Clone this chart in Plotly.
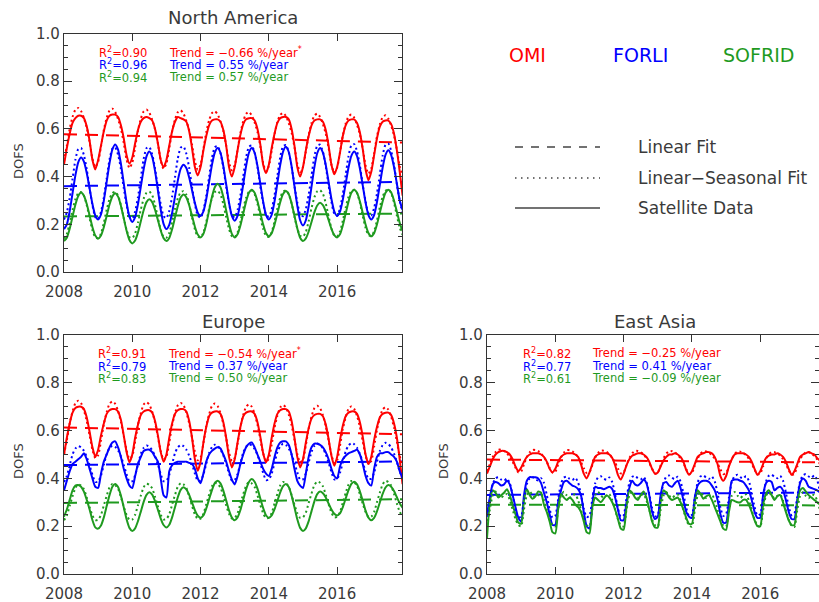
import plotly.graph_objects as go

W, H = 819, 602
YEARS = list(range(2008, 2018))
t = [y + m / 12 for y in YEARS for m in range(12)]

RED, BLUE, GREEN = "#ff0000", "#0000ff", "#1f9a1f"
TXT = "#3a3a3a"
FONT = "DejaVu Sans"

# ---------------- North America ----------------
na_omi = [
    .45, .52, .58, .625, .645, .655, .655, .645, .61, .55, .47, .43,
    .47, .53, .59, .635, .655, .66, .66, .65, .615, .56, .49, .455,
    .48, .54, .595, .63, .645, .65, .645, .635, .60, .54, .47, .44,
    .47, .53, .59, .63, .65, .645, .64, .63, .59, .52, .44, .405,
    .44, .51, .57, .615, .635, .64, .64, .63, .595, .53, .44, .40,
    .44, .51, .575, .62, .64, .645, .645, .635, .60, .535, .45, .415,
    .45, .52, .58, .625, .645, .65, .65, .64, .60, .53, .44, .40,
    .44, .51, .57, .615, .635, .64, .64, .63, .595, .53, .45, .41,
    .44, .50, .57, .615, .635, .64, .64, .625, .585, .515, .43, .385,
    .42, .49, .56, .61, .63, .635, .635, .62, .58, .51, .42, .32]
na_omi_fit = [
    .465, .530, .600, .650, .680, .688, .675, .645, .605, .545, .475, .440,
    .462, .526, .596, .646, .677, .685, .671, .641, .601, .541, .471, .436,
    .458, .523, .593, .643, .673, .681, .668, .638, .598, .538, .468, .433,
    .455, .519, .589, .639, .670, .678, .664, .634, .594, .534, .464, .429,
    .451, .516, .586, .636, .666, .674, .661, .631, .591, .531, .461, .426,
    .448, .512, .582, .632, .663, .671, .657, .627, .587, .527, .457, .422,
    .444, .509, .579, .629, .659, .667, .654, .624, .584, .524, .454, .419,
    .441, .505, .575, .625, .656, .664, .650, .620, .580, .520, .450, .415,
    .437, .502, .572, .622, .652, .660, .647, .617, .577, .517, .447, .412,
    .434, .498, .568, .618, .649, .657, .643, .613, .573, .513, .443, .408]
na_forli = [
    .18, .20, .255, .33, .405, .46, .48, .463, .415, .35, .285, .237,
    .22, .241, .299, .378, .456, .514, .535, .513, .454, .373, .291, .232,
    .21, .23, .284, .358, .431, .485, .505, .483, .424, .343, .261, .202,
    .18, .198, .248, .315, .383, .432, .45, .436, .396, .343, .289, .249,
    .235, .254, .306, .378, .449, .501, .52, .50, .444, .368, .291, .235,
    .215, .235, .291, .368, .444, .50, .52, .50, .445, .37, .295, .24,
    .22, .24, .296, .373, .449, .505, .525, .503, .443, .36, .278, .217,
    .195, .217, .276, .358, .439, .498, .52, .501, .449, .378, .306, .254,
    .235, .253, .303, .37, .438, .487, .505, .486, .434, .363, .291, .239,
    .22, .239, .293, .365, .438, .491, .51, .49, .44, .37, .30, .26]
na_forli_fit = [
    .220, .250, .310, .390, .470, .515, .520, .490, .430, .350, .280, .230,
    .222, .252, .312, .392, .472, .517, .522, .492, .432, .352, .282, .232,
    .224, .254, .314, .394, .474, .519, .524, .494, .434, .354, .284, .234,
    .226, .256, .316, .396, .476, .521, .526, .496, .436, .356, .286, .236,
    .228, .258, .318, .398, .478, .523, .528, .498, .438, .358, .288, .238,
    .230, .260, .320, .400, .480, .525, .530, .500, .440, .360, .290, .240,
    .232, .262, .322, .402, .482, .527, .532, .502, .442, .362, .292, .242,
    .234, .264, .324, .404, .484, .529, .534, .504, .444, .364, .294, .244,
    .236, .266, .326, .406, .486, .531, .536, .506, .446, .366, .296, .246,
    .238, .268, .328, .408, .488, .533, .538, .508, .448, .368, .298, .248]
na_sofrid = [
    .13, .144, .181, .232, .282, .319, .333, .32, .285, .237, .188, .153,
    .14, .153, .188, .235, .283, .317, .33, .316, .278, .225, .173, .134,
    .12, .132, .166, .213, .259, .293, .305, .293, .261, .218, .174, .142,
    .13, .143, .179, .228, .276, .312, .325, .313, .28, .235, .19, .157,
    .145, .16, .201, .258, .314, .355, .37, .355, .314, .258, .201, .16,
    .145, .158, .195, .245, .295, .332, .345, .332, .296, .248, .199, .163,
    .15, .163, .198, .245, .293, .327, .34, .326, .288, .235, .183, .144,
    .13, .141, .17, .21, .25, .279, .29, .28, .254, .218, .181, .155,
    .145, .158, .195, .245, .295, .332, .345, .332, .296, .248, .199, .163,
    .15, .163, .199, .248, .296, .332, .345, .333, .299, .253, .206, .172]
na_sofrid_fit = [
    .140, .160, .205, .260, .305, .330, .335, .320, .280, .225, .175, .145,
    .141, .161, .206, .261, .306, .331, .336, .321, .281, .226, .176, .146,
    .142, .162, .207, .262, .307, .332, .337, .322, .282, .227, .177, .147,
    .144, .164, .209, .264, .309, .334, .339, .324, .284, .229, .179, .149,
    .145, .165, .210, .265, .310, .335, .340, .325, .285, .230, .180, .150,
    .146, .166, .211, .266, .311, .336, .341, .326, .286, .231, .181, .151,
    .147, .167, .212, .267, .312, .337, .342, .327, .287, .232, .182, .152,
    .148, .168, .213, .268, .313, .338, .343, .328, .288, .233, .183, .153,
    .150, .170, .215, .270, .315, .340, .345, .330, .290, .235, .185, .155,
    .151, .171, .216, .271, .316, .341, .346, .331, .291, .236, .186, .156]
na_lin = {"omi": [0.578, 0.543], "forli": [0.360, 0.378], "sofrid": [0.233, 0.245]}

# ---------------- Europe ----------------
eu_omi = [
    .50, .57, .63, .675, .695, .70, .70, .69, .655, .595, .53, .49,
    .52, .58, .63, .67, .685, .69, .69, .68, .645, .58, .51, .467,
    .50, .57, .625, .665, .68, .685, .685, .675, .64, .58, .51, .47,
    .50, .57, .63, .67, .685, .69, .69, .68, .64, .57, .48, .432,
    .47, .55, .615, .66, .675, .68, .68, .67, .635, .57, .49, .446,
    .48, .55, .615, .66, .675, .68, .68, .67, .635, .575, .505, .467,
    .50, .57, .63, .67, .685, .69, .69, .68, .64, .57, .49, .446,
    .48, .55, .61, .65, .665, .67, .67, .66, .625, .565, .495, .453,
    .49, .56, .62, .66, .675, .68, .68, .67, .635, .575, .50, .46,
    .49, .56, .615, .655, .67, .675, .675, .665, .63, .57, .48, .376]
eu_omi_fit = [
    .500, .560, .630, .680, .715, .725, .715, .685, .640, .580, .520, .485,
    .497, .557, .627, .677, .712, .722, .712, .682, .637, .577, .517, .482,
    .494, .554, .624, .674, .709, .719, .709, .679, .634, .574, .514, .479,
    .491, .551, .621, .671, .706, .716, .706, .676, .631, .571, .511, .476,
    .488, .548, .618, .668, .703, .713, .703, .673, .628, .568, .508, .473,
    .485, .545, .615, .665, .700, .710, .700, .670, .625, .565, .505, .470,
    .482, .542, .612, .662, .697, .707, .697, .667, .622, .562, .502, .467,
    .479, .539, .609, .659, .694, .704, .694, .664, .619, .559, .499, .464,
    .476, .536, .606, .656, .691, .701, .691, .661, .616, .556, .496, .461,
    .473, .533, .603, .653, .688, .698, .688, .658, .613, .553, .493, .458]
eu_forli = [
    .35, .39, .43, .46, .47, .48, .49, .505, .48, .44, .40, .365,
    .36, .42, .47, .50, .53, .55, .555, .53, .49, .44, .40, .37,
    .36, .41, .46, .49, .515, .52, .52, .51, .49, .47, .40, .33,
    .32, .43, .455, .465, .47, .47, .47, .47, .465, .46, .44, .40,
    .38, .42, .47, .50, .515, .525, .53, .525, .50, .47, .43, .395,
    .375, .41, .46, .50, .53, .545, .55, .53, .50, .47, .44, .42,
    .41, .44, .49, .53, .55, .555, .555, .54, .50, .44, .39, .37,
    .36, .42, .49, .53, .545, .545, .54, .53, .51, .48, .44, .41,
    .40, .45, .48, .495, .505, .51, .515, .52, .50, .46, .41, .38,
    .37, .44, .49, .505, .505, .51, .51, .50, .49, .47, .43, .40]
eu_forli_fit = [
    .385, .410, .455, .500, .525, .535, .530, .515, .490, .455, .415, .385,
    .387, .412, .457, .502, .527, .537, .532, .517, .492, .457, .417, .387,
    .388, .413, .458, .503, .528, .538, .533, .518, .493, .458, .418, .388,
    .390, .415, .460, .505, .530, .540, .535, .520, .495, .460, .420, .390,
    .391, .416, .461, .506, .531, .541, .536, .521, .496, .461, .421, .391,
    .393, .418, .463, .508, .533, .543, .538, .523, .498, .463, .423, .393,
    .395, .420, .465, .510, .535, .545, .540, .525, .500, .465, .425, .395,
    .396, .421, .466, .511, .536, .546, .541, .526, .501, .466, .426, .396,
    .398, .423, .468, .513, .538, .548, .543, .528, .503, .468, .428, .398,
    .399, .424, .469, .514, .539, .549, .544, .529, .504, .469, .429, .399]
eu_sofrid = [
    .24, .27, .31, .35, .37, .372, .365, .345, .31, .27, .225, .195,
    .19, .203, .237, .284, .33, .365, .377, .364, .328, .279, .229, .193,
    .18, .191, .221, .261, .302, .331, .342, .332, .305, .269, .232, .205,
    .195, .206, .237, .279, .321, .352, .363, .354, .331, .299, .267, .244,
    .235, .245, .274, .313, .351, .38, .39, .379, .349, .308, .266, .236,
    .225, .237, .268, .311, .354, .385, .397, .386, .357, .316, .276, .246,
    .235, .245, .271, .306, .342, .368, .377, .364, .328, .279, .229, .193,
    .18, .191, .221, .263, .304, .334, .345, .338, .32, .295, .27, .252,
    .245, .254, .28, .316, .351, .377, .386, .375, .346, .306, .265, .236,
    .225, .235, .262, .299, .335, .362, .372, .365, .347, .321, .296, .277]
eu_sofrid_fit = [
    .225, .245, .285, .325, .360, .375, .370, .355, .320, .280, .245, .225,
    .227, .247, .287, .327, .362, .377, .372, .357, .322, .282, .247, .227,
    .228, .248, .288, .328, .363, .378, .373, .358, .323, .283, .248, .228,
    .230, .250, .290, .330, .365, .380, .375, .360, .325, .285, .250, .230,
    .232, .252, .292, .332, .367, .382, .377, .362, .327, .287, .252, .232,
    .234, .254, .294, .334, .369, .384, .379, .364, .329, .289, .254, .234,
    .235, .255, .295, .335, .370, .385, .380, .365, .330, .290, .255, .235,
    .237, .257, .297, .337, .372, .387, .382, .367, .332, .292, .257, .237,
    .239, .259, .299, .339, .374, .389, .384, .369, .334, .294, .259, .239,
    .240, .260, .300, .340, .375, .390, .385, .370, .335, .295, .260, .240]
eu_lin = {"omi": [0.613, 0.585], "forli": [0.456, 0.471], "sofrid": [0.297, 0.313]}

# ---------------- East Asia ----------------
ea_omi = [
    .42, .45, .48, .50, .51, .515, .515, .51, .50, .48, .45, .43,
    .445, .47, .49, .50, .505, .505, .505, .50, .49, .47, .44, .425,
    .44, .47, .49, .50, .505, .505, .505, .50, .49, .46, .42, .40,
    .425, .46, .49, .50, .505, .505, .505, .50, .485, .455, .415, .395,
    .42, .455, .48, .495, .50, .505, .505, .50, .49, .47, .44, .42,
    .425, .45, .475, .49, .50, .50, .505, .50, .49, .47, .435, .415,
    .43, .46, .49, .50, .505, .51, .51, .505, .49, .46, .41, .39,
    .41, .45, .48, .50, .505, .505, .505, .50, .49, .47, .44, .415,
    .43, .46, .485, .495, .50, .50, .505, .50, .49, .47, .44, .415,
    .43, .46, .49, .50, .505, .51, .505, .50, .485, .475, .47, .46]
ea_omi_fit = [
    .430, .460, .490, .510, .520, .520, .515, .505, .490, .470, .445, .425,
    .429, .459, .489, .509, .519, .519, .514, .504, .489, .469, .444, .424,
    .428, .458, .488, .508, .518, .518, .513, .503, .488, .468, .443, .423,
    .426, .456, .486, .506, .516, .516, .511, .501, .486, .466, .441, .421,
    .425, .455, .485, .505, .515, .515, .510, .500, .485, .465, .440, .420,
    .424, .454, .484, .504, .514, .514, .509, .499, .484, .464, .439, .419,
    .423, .453, .483, .503, .513, .513, .508, .498, .483, .463, .438, .418,
    .422, .452, .482, .502, .512, .512, .507, .497, .482, .462, .437, .417,
    .420, .450, .480, .500, .510, .510, .505, .495, .480, .460, .435, .415,
    .419, .449, .479, .499, .509, .509, .504, .494, .479, .459, .434, .414]
ea_forli = [
    .25, .32, .375, .385, .38, .37, .375, .39, .375, .33, .28, .235,
    .22, .33, .39, .405, .405, .405, .40, .38, .34, .30, .25, .205,
    .205, .30, .35, .385, .39, .38, .37, .365, .355, .33, .26, .20,
    .19, .29, .365, .36, .36, .355, .36, .365, .355, .32, .27, .225,
    .225, .30, .36, .39, .375, .37, .38, .395, .38, .33, .26, .23,
    .24, .33, .38, .385, .37, .365, .38, .39, .36, .31, .26, .24,
    .235, .32, .37, .385, .39, .39, .385, .37, .35, .31, .25, .215,
    .215, .30, .39, .395, .395, .39, .385, .37, .35, .31, .26, .235,
    .235, .33, .38, .39, .385, .35, .36, .365, .35, .31, .26, .23,
    .23, .31, .38, .40, .39, .365, .36, .355, .35, .34, .30, .25]
ea_forli_fit = [
    .240, .310, .375, .400, .405, .395, .390, .400, .380, .330, .270, .235,
    .241, .311, .376, .401, .406, .396, .391, .401, .381, .331, .271, .236,
    .243, .313, .378, .403, .408, .398, .393, .403, .383, .333, .273, .238,
    .244, .314, .379, .404, .409, .399, .394, .404, .384, .334, .274, .239,
    .246, .316, .381, .406, .411, .401, .396, .406, .386, .336, .276, .241,
    .247, .317, .382, .407, .412, .402, .397, .407, .387, .337, .277, .242,
    .248, .318, .383, .408, .413, .403, .398, .408, .388, .338, .278, .243,
    .250, .320, .385, .410, .415, .405, .400, .410, .390, .340, .280, .245,
    .251, .321, .386, .411, .416, .406, .401, .411, .391, .341, .281, .246,
    .253, .323, .388, .413, .418, .408, .403, .413, .393, .343, .283, .248]
ea_sofrid = [
    .15, .30, .35, .34, .32, .33, .34, .355, .33, .29, .25, .215,
    .21, .31, .355, .33, .315, .325, .345, .34, .29, .26, .22, .175,
    .17, .27, .335, .32, .31, .32, .31, .29, .28, .26, .22, .175,
    .17, .28, .32, .31, .30, .315, .33, .32, .30, .27, .23, .19,
    .185, .28, .35, .34, .32, .31, .33, .345, .32, .27, .22, .195,
    .195, .30, .35, .34, .32, .31, .315, .32, .30, .27, .235, .21,
    .21, .30, .35, .335, .315, .325, .33, .31, .28, .25, .22, .19,
    .185, .26, .31, .305, .30, .30, .31, .31, .29, .26, .225, .20,
    .20, .29, .335, .35, .33, .31, .325, .33, .30, .26, .225, .205,
    .205, .30, .35, .36, .345, .33, .32, .31, .30, .29, .27, .25]
ea_sofrid_fit = [
    .200, .270, .330, .345, .330, .320, .330, .335, .310, .270, .230, .205,
    .200, .270, .330, .345, .330, .320, .330, .335, .310, .270, .230, .205,
    .199, .269, .329, .344, .329, .319, .329, .334, .309, .269, .229, .204,
    .199, .269, .329, .344, .329, .319, .329, .334, .309, .269, .229, .204,
    .199, .269, .329, .344, .329, .319, .329, .334, .309, .269, .229, .204,
    .198, .268, .328, .343, .328, .318, .328, .333, .308, .268, .228, .203,
    .198, .268, .328, .343, .328, .318, .328, .333, .308, .268, .228, .203,
    .198, .268, .328, .343, .328, .318, .328, .333, .308, .268, .228, .203,
    .197, .267, .327, .342, .327, .317, .327, .332, .307, .267, .227, .202,
    .197, .267, .327, .342, .327, .317, .327, .332, .307, .267, .227, .202]
ea_lin = {"omi": [0.479, 0.467], "forli": [0.331, 0.341], "sofrid": [0.290, 0.287]}

lin_x = [2008, 2017.9]

stats = {
    "North America": [("R<sup>2</sup>=0.90", "Trend = \u22120.66 %/year<sup>*</sup>"),
                      ("R<sup>2</sup>=0.96", "Trend = 0.55 %/year"),
                      ("R<sup>2</sup>=0.94", "Trend = 0.57 %/year")],
    "Europe": [("R<sup>2</sup>=0.91", "Trend = \u22120.54 %/year<sup>*</sup>"),
               ("R<sup>2</sup>=0.79", "Trend = 0.37 %/year"),
               ("R<sup>2</sup>=0.83", "Trend = 0.50 %/year")],
    "East Asia": [("R<sup>2</sup>=0.82", "Trend = \u22120.25 %/year"),
                  ("R<sup>2</sup>=0.77", "Trend = 0.41 %/year"),
                  ("R<sup>2</sup>=0.61", "Trend = \u22120.09 %/year")],
}

def px_x(x):
    return x / W

def px_y(y):
    return 1 - y / H

panels = [
    dict(title="North America", n="", left=64, right=402, top=33.5, bottom=272,
         xr=[2008, 2017.9], data=(na_omi, na_forli, na_sofrid),
         fit=(na_omi_fit, na_forli_fit, na_sofrid_fit), lin=na_lin,
         title_xy=(233, 18), dofs_xy=(18, 161), r2_x=97, tr_x=167, rows=(53, 65, 77)),
    dict(title="Europe", n="2", left=64, right=402, top=335, bottom=574,
         xr=[2008, 2017.9], data=(eu_omi, eu_forli, eu_sofrid),
         fit=(eu_omi_fit, eu_forli_fit, eu_sofrid_fit), lin=eu_lin,
         title_xy=(233, 321), dofs_xy=(18, 461), r2_x=96, tr_x=166, rows=(353, 366, 378)),
    dict(title="East Asia", n="3", left=487, right=819, top=335, bottom=574,
         xr=[2008, 2017.72], data=(ea_omi, ea_forli, ea_sofrid),
         fit=(ea_omi_fit, ea_forli_fit, ea_sofrid_fit), lin=ea_lin,
         title_xy=(655, 321), dofs_xy=(443, 461), r2_x=521, tr_x=590, rows=(353, 366, 378)),
]

fig = go.Figure()
colors = (RED, BLUE, GREEN)
keys = ("omi", "forli", "sofrid")
annotations = []

for p in panels:
    xa, ya = "x" + p["n"], "y" + p["n"]
    for k, c in zip(keys, colors):
        fig.add_trace(go.Scatter(x=lin_x, y=p["lin"][k], mode="lines", xaxis=xa, yaxis=ya,
                                 line=dict(color=c, width=2, dash="13px,8px"),
                                 showlegend=False, hoverinfo="skip"))
    for d, c in zip(p["data"], colors):
        fig.add_trace(go.Scatter(x=t, y=d, mode="lines", xaxis=xa, yaxis=ya,
                                 line=dict(color=c, width=2, shape="spline", smoothing=0.6),
                                 showlegend=False))
    for f, c in zip(p["fit"], colors):
        fig.add_trace(go.Scatter(x=t, y=f, mode="lines", xaxis=xa, yaxis=ya,
                                 line=dict(color=c, width=2, dash="2px,3px", shape="spline",
                                           smoothing=0.6),
                                 showlegend=False))
    axis_common = dict(showline=True, linecolor="#333333", linewidth=1.2, mirror="ticks",
                       ticks="inside", tickcolor="#333333", tickwidth=1, showgrid=False,
                       zeroline=False, automargin=False,
                       tickfont=dict(family=FONT, size=15, color=TXT))
    fig.layout["xaxis" + p["n"]] = dict(
        domain=[px_x(p["left"]), px_x(p["right"])], range=p["xr"], anchor=ya,
        tickmode="linear", tick0=2008, dtick=2, ticklen=7, ticklabelstandoff=6,
        **axis_common)
    fig.layout["yaxis" + p["n"]] = dict(
        domain=[px_y(p["bottom"]), px_y(p["top"])], range=[0, 1], anchor=xa,
        tickmode="linear", tick0=0, dtick=0.2, tickformat=".1f", ticklen=8,
        minor=dict(dtick=0.05, ticklen=4, ticks="inside", tickcolor="#333333"),
        **axis_common)
    tx, ty = p["title_xy"]
    annotations.append(dict(x=px_x(tx), y=px_y(ty), xref="paper", yref="paper",
                            text=p["title"], showarrow=False, xanchor="center", yanchor="middle",
                            font=dict(family=FONT, size=18, color=TXT)))
    dx, dy = p["dofs_xy"]
    annotations.append(dict(x=px_x(dx), y=px_y(dy), xref="paper", yref="paper",
                            text="DOFS", showarrow=False, textangle=-90,
                            xanchor="center", yanchor="middle",
                            font=dict(family=FONT, size=13, color=TXT)))
    for (r2, tr), c, ry in zip(stats[p["title"]], colors, p["rows"]):
        annotations.append(dict(x=px_x(p["r2_x"]), y=px_y(ry), xref="paper", yref="paper",
                                text=r2, showarrow=False, xanchor="left", yanchor="middle",
                                font=dict(family=FONT, size=11.5, color=c)))
        annotations.append(dict(x=px_x(p["tr_x"]), y=px_y(ry), xref="paper", yref="paper",
                                text=tr, showarrow=False, xanchor="left", yanchor="middle",
                                font=dict(family=FONT, size=11.5, color=c)))

# instrument legend (top right)
for name, c, cx in (("OMI", RED, 527), ("FORLI", BLUE, 640), ("SOFRID", GREEN, 758)):
    annotations.append(dict(x=px_x(cx), y=px_y(55), xref="paper", yref="paper", text=name,
                            showarrow=False, xanchor="center", yanchor="middle",
                            font=dict(family=FONT, size=19, color=c)))

shapes = []
for label, dash, ly in (("Linear Fit", "8px,8px", 147),
                        ("Linear\u2212Seasonal Fit", "1.5px,4.5px", 178),
                        ("Satellite Data", "solid", 208)):
    shapes.append(dict(type="line", xref="paper", yref="paper",
                       x0=px_x(515), x1=px_x(600), y0=px_y(ly), y1=px_y(ly),
                       line=dict(color="#444444", width=1.5, dash=dash)))
    annotations.append(dict(x=px_x(636), y=px_y(ly), xref="paper", yref="paper", text=label,
                            showarrow=False, xanchor="left", yanchor="middle",
                            font=dict(family=FONT, size=17, color=TXT)))

fig.update_layout(template="none", width=W, height=H, margin=dict(l=0, r=0, t=0, b=0, pad=0),
                  paper_bgcolor="white", plot_bgcolor="white",
                  annotations=annotations, shapes=shapes, showlegend=False,
                  font=dict(family=FONT, color=TXT))

fig.write_html("out.html", config={"displayModeBar": False},
               post_script="document.body.style.margin='0';document.body.style.overflow='hidden';")
